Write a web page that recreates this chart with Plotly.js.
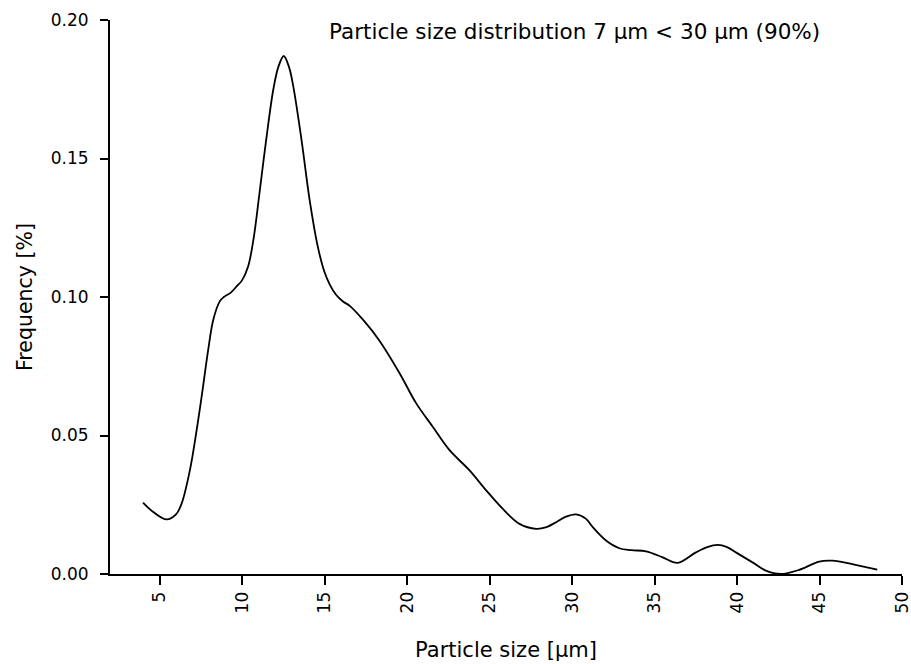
<!DOCTYPE html>
<html>
<head>
<meta charset="utf-8">
<script src="https://cdn.plot.ly/plotly-3.0.1.min.js"></script>
<style>html,body{margin:0;padding:0;background:#fff;}#chart{width:911px;height:664px;}</style>
</head>
<body>
<div id="chart"></div>
<script>
const particleSize = [4.0, 4.6, 5.43, 6.0, 6.34, 6.84, 7.25, 7.61, 7.95, 8.26, 8.66, 8.9, 9.3, 9.67, 10.0, 10.37, 10.7, 11.05, 11.45, 11.9, 12.2, 12.53, 12.85, 13.1, 13.6, 14.1, 14.6, 15.0, 15.32, 15.7, 16.12, 16.53, 17.33, 18.3, 19.55, 20.56, 21.57, 22.58, 23.79, 24.8, 25.81, 26.82, 27.83, 28.4, 29.04, 29.6, 30.25, 30.85, 31.26, 32.06, 32.87, 33.6, 34.49, 35.5, 36.4, 37.51, 38.2, 38.82, 39.4, 39.93, 40.94, 41.75, 42.66, 43.77, 44.98, 45.78, 46.98, 48.5];
const frequency    = [0.0258, 0.0225, 0.0197, 0.0215, 0.0254, 0.0374, 0.0519, 0.0664, 0.0809, 0.0918, 0.0985, 0.1, 0.1015, 0.1038, 0.106, 0.111, 0.121, 0.137, 0.156, 0.175, 0.183, 0.187, 0.183, 0.1763, 0.157, 0.135, 0.118, 0.109, 0.1045, 0.1008, 0.0984, 0.0968, 0.0918, 0.0845, 0.0725, 0.0616, 0.0531, 0.0447, 0.0374, 0.0302, 0.0235, 0.0181, 0.0163, 0.0168, 0.0187, 0.0206, 0.0215, 0.0199, 0.0169, 0.0121, 0.0093, 0.0086, 0.0082, 0.006, 0.004, 0.0078, 0.0097, 0.0105, 0.0097, 0.0078, 0.0042, 0.0012, 0.0, 0.0015, 0.0045, 0.0048, 0.0036, 0.0016];
const xTicks = [5, 10, 15, 20, 25, 30, 35, 40, 45, 50];
const yTicks = [0.00, 0.05, 0.10, 0.15, 0.20];
const yTickText = ["0.00", "0.05", "0.10", "0.15", "0.20"];
const chartTitle = "Particle size distribution 7 \u03bcm < 30 \u03bcm (90%)";
const xTitle = "Particle size [\u03bcm]";
const yTitle = "Frequency [%]";

const font = "DejaVu Sans, Verdana, sans-serif";
const trace = {
  x: particleSize, y: frequency, type: "scatter", mode: "lines",
  line: {color: "#000", width: 1.8, shape: "spline", smoothing: 1},
  hoverinfo: "skip", showlegend: false
};
const layout = {
  width: 911, height: 664,
  margin: {l: 110, r: 9, t: 20, b: 90},
  paper_bgcolor: "#fff", plot_bgcolor: "#fff",
  font: {family: font, color: "#000", size: 17},
  showlegend: false,
  xaxis: {
    range: [2, 50], tickvals: xTicks, ticktext: xTicks.map(String),
    tickangle: -90, ticks: "outside", ticklen: 9, tickwidth: 2, tickcolor: "#000",
    showline: true, linecolor: "#000", linewidth: 2, showgrid: false, zeroline: false,
    ticklabeloverflow: "allow",
    tickfont: {family: font, size: 17, color: "#000"},
    title: {text: xTitle, font: {family: font, size: 21, color: "#000"}, standoff: 30}
  },
  yaxis: {
    range: [0, 0.2], tickvals: yTicks, ticktext: yTickText,
    ticks: "outside", ticklen: 8, tickwidth: 2, tickcolor: "#000",
    showline: true, linecolor: "#000", linewidth: 2, showgrid: false, zeroline: false,
    tickfont: {family: font, size: 17, color: "#000"},
    ticklabelstandoff: 8,
    title: {text: yTitle, font: {family: font, size: 20.5, color: "#000"}, standoff: 13}
  },
  annotations: [{
    text: chartTitle, xref: "paper", yref: "paper", x: 0.587, y: 0.98,
    xanchor: "center", yanchor: "middle", showarrow: false,
    font: {family: font, size: 21.5, color: "#000"}
  }]
};
Plotly.newPlot("chart", [trace], layout, {staticPlot: true, displayModeBar: false});
</script>
</body>
</html>
